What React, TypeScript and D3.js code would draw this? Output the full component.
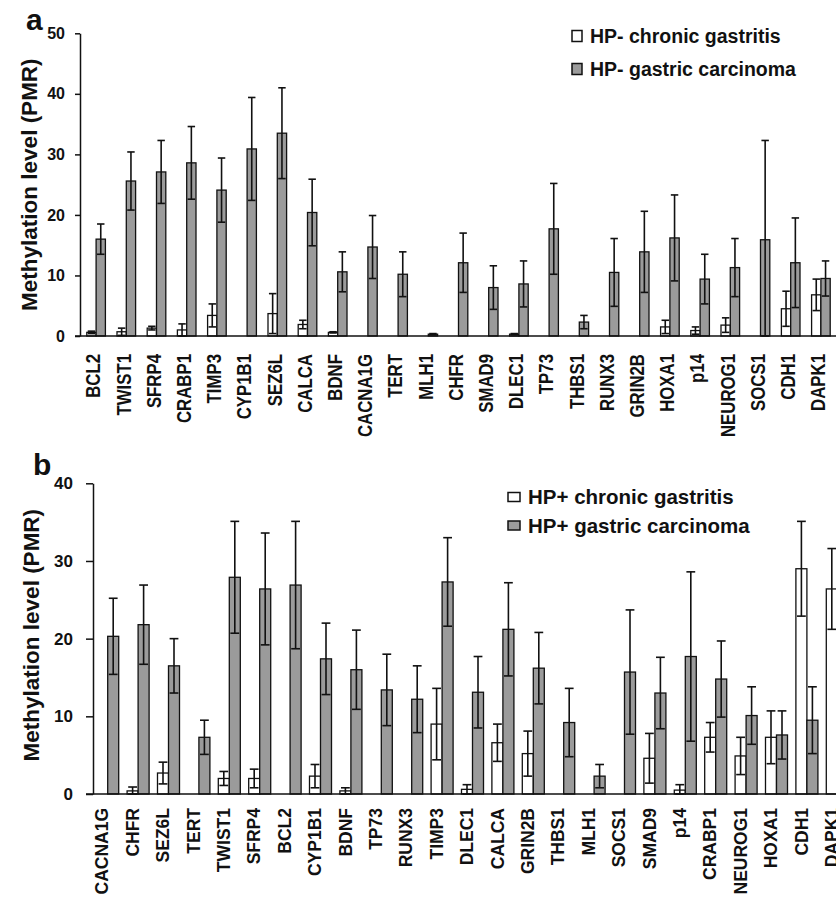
import React, {useRef, useEffect} from 'react';
import * as d3 from 'd3';

const width = 836;
const height = 900;
const font = '"Liberation Sans", Arial, sans-serif';
const grey = '#9b9b9b';

// panel a: HP- patients
const genesA = ['BCL2', 'TWIST1', 'SFRP4', 'CRABP1', 'TIMP3', 'CYP1B1', 'SEZ6L', 'CALCA', 'BDNF', 'CACNA1G', 'TERT', 'MLH1', 'CHFR', 'SMAD9', 'DLEC1', 'TP73', 'THBS1', 'RUNX3', 'GRIN2B', 'HOXA1', 'p14', 'NEUROG1', 'SOCS1', 'CDH1', 'DAPK1'];
const chronicA = [0.6, 0.7, 1.3, 1.0, 3.4, 0, 3.7, 1.9, 0.6, 0, 0, 0, 0, 0, 0.3, 0, 0, 0, 0, 1.5, 0.9, 1.8, 0, 4.5, 6.8];
const chronicErrA = [0.2, 0.6, 0.3, 1.0, 1.9, 0, 3.3, 0.7, 0.1, 0, 0, 0, 0, 0, 0.1, 0, 0, 0, 0, 1.1, 0.6, 1.2, 0, 2.9, 2.6];
const carcinomaA = [16.0, 25.6, 27.1, 28.6, 24.1, 30.9, 33.5, 20.4, 10.6, 14.7, 10.2, 0.3, 12.1, 8.0, 8.6, 17.7, 2.3, 10.5, 13.9, 16.2, 9.4, 11.3, 15.9, 12.1, 9.5];
const carcinomaErrA = [2.5, 4.8, 5.2, 6.0, 5.3, 8.5, 7.5, 5.5, 3.3, 5.2, 3.7, 0.1, 4.9, 3.6, 3.8, 7.5, 1.1, 5.6, 6.7, 7.1, 4.1, 4.8, 16.4, 7.4, 2.9];
const ticksA = [0, 10, 20, 30, 40, 50];

// panel b: HP+ patients
const genesB = ['CACNA1G', 'CHFR', 'SEZ6L', 'TERT', 'TWIST1', 'SFRP4', 'BCL2', 'CYP1B1', 'BDNF', 'TP73', 'RUNX3', 'TIMP3', 'DLEC1', 'CALCA', 'GRIN2B', 'THBS1', 'MLH1', 'SOCS1', 'SMAD9', 'p14', 'CRABP1', 'NEUROG1', 'HOXA1', 'CDH1', 'DAPK1'];
const chronicB = [0, 0.4, 2.7, 0, 2.0, 2.0, 0, 2.3, 0.4, 0, 0, 9.0, 0.6, 6.6, 5.2, 0, 0, 0, 4.6, 0.5, 7.3, 4.9, 7.3, 29.0, 26.4];
const chronicErrB = [0, 0.5, 1.4, 0, 0.9, 1.2, 0, 1.5, 0.4, 0, 0, 4.6, 0.6, 2.4, 2.9, 0, 0, 0, 3.2, 0.7, 1.9, 2.4, 3.4, 6.1, 5.2];
// last carcinoma bar (DAPK1) is cut off at the figure edge
const carcinomaB = [20.3, 21.8, 16.5, 7.3, 27.9, 26.4, 26.9, 17.4, 16.0, 13.4, 12.2, 27.3, 13.1, 21.2, 16.2, 9.2, 2.3, 15.7, 13.0, 17.7, 14.8, 10.1, 7.6, 9.5, 0];
const carcinomaErrB = [4.9, 5.1, 3.5, 2.2, 7.2, 7.2, 8.2, 4.6, 5.1, 4.6, 4.3, 5.7, 4.6, 6.0, 4.6, 4.4, 1.5, 8.0, 4.6, 10.9, 4.9, 3.7, 3.1, 4.3, 0];
const ticksB = [0, 10, 20, 30, 40];

const drawPanel = (svg, p) => {
  const g = svg.append('g');
  const x = d3
  .scaleBand()
  .domain(p.genes)
  .range([p.left, p.left + p.step * p.genes.length])
  .paddingInner(p.pad)
  .paddingOuter(p.pad / 2);
  const sub = d3.scaleBand().domain(['chronic', 'carcinoma']).range([0, x.bandwidth()]);
  const y = d3.scaleLinear().domain([0, p.ticks[p.ticks.length - 1]]).range([p.bottom, p.top]);

  const rows = p.genes.map((gene, i) => [
    {gene, key: 'chronic', v: p.chronic[i], e: p.chronicErr[i], fill: 'white'},
    {gene, key: 'carcinoma', v: p.carcinoma[i], e: p.carcinomaErr[i], fill: grey},
  ]).flat().filter(d => d.v > 0);

  g.append('g')
  .selectAll('rect')
  .data(rows)
  .enter()
  .append('rect')
  .attr('x', d => x(d.gene) + sub(d.key))
  .attr('width', sub.bandwidth())
  .attr('y', d => y(d.v))
  .attr('height', d => y(0) - y(d.v))
  .attr('fill', d => d.fill)
  .attr('stroke', '#111')
  .attr('stroke-width', 1.3);

  // error bars, mean +/- SD with caps at both ends
  const eb = g.append('g').attr('stroke', '#111').attr('stroke-width', 1.6)
  .selectAll('g')
  .data(rows.filter(d => d.e > 0))
  .enter()
  .append('g')
  .attr('transform', d => `translate(${x(d.gene) + sub(d.key) + sub.bandwidth() / 2},0)`);
  const cap = sub.bandwidth() * 0.4;
  eb.append('line').attr('y1', d => y(Math.max(0, d.v - d.e))).attr('y2', d => y(d.v + d.e));
  eb.append('line').attr('x1', -cap).attr('x2', cap).attr('y1', d => y(d.v + d.e)).attr('y2', d => y(d.v + d.e));
  eb.append('line').attr('x1', -cap).attr('x2', cap)
  .attr('y1', d => y(Math.max(0, d.v - d.e))).attr('y2', d => y(Math.max(0, d.v - d.e)));

  // axes
  const yAxis = g.append('g')
  .attr('transform', `translate(${p.axisX},0)`)
  .call(d3.axisLeft(y).tickValues(p.ticks).tickSize(p.tick).tickSizeOuter(0).tickPadding(p.tickPad));
  yAxis.selectAll('path, line').attr('stroke', '#111').attr('stroke-width', 1.5);
  yAxis.selectAll('text').attr('font-family', font).attr('font-weight', 'bold').attr('font-size', p.tickFont).attr('fill', '#111');

  g.append('line')
  .attr('x1', p.axisX - p.tick).attr('x2', width)
  .attr('y1', y(0)).attr('y2', y(0))
  .attr('stroke', '#111').attr('stroke-width', 1.5);

  // gene names, rotated; glyphs slightly widened like the printed figure
  const capH = p.labelFont * 0.716 * p.labelStretch;
  g.append('g')
  .selectAll('text')
  .data(p.genes)
  .enter()
  .append('text')
  .attr('transform', d => `translate(${x(d) + x.bandwidth() / 2 + capH / 2 - p.labelShift},${p.labelY}) rotate(-90) scale(1,${p.labelStretch})`)
  .attr('text-anchor', 'end')
  .attr('font-family', font)
  .attr('font-weight', 'bold')
  .attr('font-size', p.labelFont)
  .attr('fill', '#111')
  .text(d => d);

  g.append('text')
  .attr('transform', `translate(${p.titleX},${(p.top + p.bottom) / 2 + p.titleShift}) rotate(-90)`)
  .attr('text-anchor', 'middle')
  .attr('font-family', font)
  .attr('font-weight', 'bold')
  .attr('font-size', 22.5)
  .attr('fill', '#111')
  .text('Methylation level (PMR)');

  g.append('text')
  .attr('x', p.letterX).attr('y', p.letterY)
  .attr('font-family', font)
  .attr('font-weight', 'bold')
  .attr('font-size', 30)
  .attr('fill', '#111')
  .text(p.letter);

  const legend = g.append('g')
  .selectAll('g')
  .data(p.legend)
  .enter()
  .append('g')
  .attr('transform', (d, i) => `translate(${p.legendX},${p.legendY + i * p.legendGap})`);
  legend.append('rect')
  .attr('x', 0).attr('y', -p.boxH / 2)
  .attr('width', p.boxW).attr('height', p.boxH)
  .attr('fill', (d, i) => (i === 0 ? 'white' : grey))
  .attr('stroke', '#111').attr('stroke-width', 1.5);
  legend.append('text')
  .attr('x', p.boxW + 8).attr('dy', '0.35em')
  .attr('font-family', font)
  .attr('font-weight', 'bold')
  .attr('font-size', p.legendFont)
  .attr('fill', '#111')
  .text(d => d);
};

const setupChart = container => {
  const svg = d3.select(container);
  svg.selectAll('*').remove();

  drawPanel(svg, {
    genes: genesA, chronic: chronicA, chronicErr: chronicErrA, carcinoma: carcinomaA, carcinomaErr: carcinomaErrA,
    ticks: ticksA, left: 81, step: 30.2, pad: 0.384, top: 33.3, bottom: 336, axisX: 80,
    tick: 5, tickPad: 10, tickFont: 16, labelFont: 16.8, labelStretch: 1.2, labelShift: 3, labelY: 354,
    titleX: 37, titleShift: 0, letter: 'a', letterX: 26, letterY: 30,
    legend: ['HP- chronic gastritis', 'HP- gastric carcinoma'],
    legendX: 572, legendY: 36, legendGap: 33, boxW: 10, boxH: 11, legendFont: 19.5,
  });

  drawPanel(svg, {
    genes: genesB, chronic: chronicB, chronicErr: chronicErrB, carcinoma: carcinomaB, carcinomaErr: carcinomaErrB,
    ticks: ticksB, left: 92.5, step: 30.4, pad: 0.276, top: 483.3, bottom: 794, axisX: 93,
    tick: 7, tickPad: 13, tickFont: 17, labelFont: 17.5, labelStretch: 1.08, labelShift: 6, labelY: 808,
    titleX: 38.5, titleShift: -3.5, letter: 'b', letterX: 33, letterY: 475,
    legend: ['HP+ chronic gastritis', 'HP+ gastric carcinoma'],
    legendX: 508, legendY: 497, legendGap: 28.5, boxW: 12, boxH: 9, legendFont: 20.5,
  });
};

export default () => {
  const svgRef = useRef(null);
  useEffect(() => {
    if (svgRef.current) {
      setupChart(svgRef.current);
    }
  }, []);
  return (
    <svg
      ref={svgRef}
      width={width}
      height={height}
      style={{position: 'absolute', left: 0, top: 0, background: 'white'}}
    />
  );
};
